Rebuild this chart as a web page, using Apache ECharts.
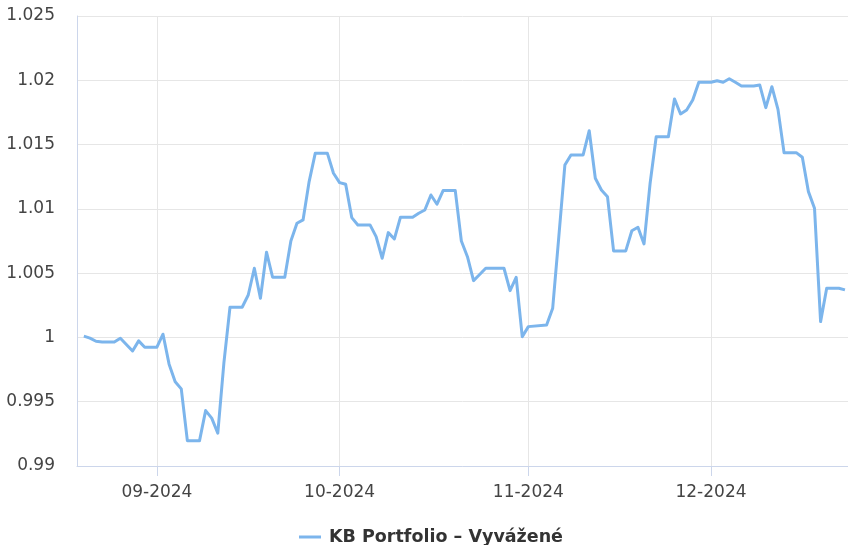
<!DOCTYPE html>
<html>
<head>
<meta charset="utf-8">
<script src="https://cdn.jsdelivr.net/npm/echarts@6/dist/echarts.min.js"></script>
<style>
  html, body { margin: 0; padding: 0; background: #fff; }
  #chart { width: 848px; height: 545px; }
</style>
</head>
<body>
<div id="chart"></div>
<script>
  // KB Portfolio – Vyvážené
  const dates = [
    "2024-08-20", "2024-08-21", "2024-08-22", "2024-08-23", "2024-08-25", "2024-08-26",
    "2024-08-28", "2024-08-29", "2024-08-30", "2024-09-01", "2024-09-02", "2024-09-03",
    "2024-09-04", "2024-09-05", "2024-09-06", "2024-09-08", "2024-09-09", "2024-09-10",
    "2024-09-11", "2024-09-12", "2024-09-13", "2024-09-15", "2024-09-16", "2024-09-17",
    "2024-09-18", "2024-09-19", "2024-09-20", "2024-09-22", "2024-09-23", "2024-09-24",
    "2024-09-25", "2024-09-26", "2024-09-27", "2024-09-29", "2024-09-30", "2024-10-01",
    "2024-10-02", "2024-10-03", "2024-10-04", "2024-10-06", "2024-10-07", "2024-10-08",
    "2024-10-09", "2024-10-10", "2024-10-11", "2024-10-13", "2024-10-14", "2024-10-15",
    "2024-10-16", "2024-10-17", "2024-10-18", "2024-10-20", "2024-10-21", "2024-10-22",
    "2024-10-23", "2024-10-24", "2024-10-25", "2024-10-28", "2024-10-29", "2024-10-30",
    "2024-10-31", "2024-11-01", "2024-11-04", "2024-11-05", "2024-11-06", "2024-11-07",
    "2024-11-08", "2024-11-10", "2024-11-11", "2024-11-12", "2024-11-13", "2024-11-14",
    "2024-11-15", "2024-11-17", "2024-11-18", "2024-11-19", "2024-11-20", "2024-11-21",
    "2024-11-22", "2024-11-24", "2024-11-25", "2024-11-26", "2024-11-27", "2024-11-28",
    "2024-11-29", "2024-12-01", "2024-12-02", "2024-12-03", "2024-12-04", "2024-12-05",
    "2024-12-06", "2024-12-08", "2024-12-09", "2024-12-10", "2024-12-11", "2024-12-12",
    "2024-12-13", "2024-12-15", "2024-12-16", "2024-12-17", "2024-12-18", "2024-12-19",
    "2024-12-20", "2024-12-22", "2024-12-23"
  ];
  const values = [
    1.0001, 0.99995, 0.9997, 0.99965, 0.99965, 0.99994,
    0.99895, 0.99973, 0.99924, 0.99924, 1.00025, 0.99792,
    0.99656, 0.996, 0.99197, 0.99197, 0.99431, 0.99372,
    0.99255, 0.99802, 1.00235, 1.00235, 1.0033, 1.00538,
    1.00305, 1.00663, 1.00468, 1.00468, 1.0075, 1.00888,
    1.00914, 1.01212, 1.01432, 1.01432, 1.01277, 1.01204,
    1.01191, 1.00932, 1.00875, 1.00875, 1.00784, 1.00616,
    1.00815, 1.00766, 1.00935, 1.00935, 1.00966, 1.00991,
    1.01108, 1.01036, 1.01142, 1.01142, 1.0075, 1.00628,
    1.00442, 1.0049, 1.00538, 1.00538, 1.00364, 1.00468,
    1.00006, 1.00084, 1.00097, 1.00227, 1.0078, 1.01341,
    1.01419, 1.01419, 1.01608, 1.01238, 1.01147, 1.01095,
    1.00673, 1.00673, 1.0083, 1.00857, 1.00727, 1.01199,
    1.01561, 1.01561, 1.01855, 1.01738, 1.01769, 1.01847,
    1.01985, 1.01985, 1.01997, 1.01985, 1.02012, 1.01985,
    1.01956, 1.01956, 1.01964, 1.01787, 1.0195, 1.01774,
    1.01437, 1.01437, 1.01401, 1.01134, 1.01005, 1.00123,
    1.00383, 1.00383, 1.0037
  ];
  const seriesName = "KB Portfolio – Vyvážené";
  const yMin = 0.99;
  const yMax = 1.025;
  const yStep = 0.005;

  const myChart = echarts.init(document.getElementById("chart"));
  const font = "DejaVu Sans";
  const option = {
    animation: false,
    textStyle: { fontFamily: font },
    grid: { left: 77, right: 0, top: 16, bottom: 79, containLabel: false },
    legend: {
      bottom: -6,
      left: 294,
      icon: "rect",
      itemWidth: 22,
      itemHeight: 3,
      textStyle: {
        fontFamily: font,
        fontSize: 17.5,
        fontWeight: "bold",
        color: "#333",
        padding: [0, 0, 0, 3],
      },
      data: [seriesName],
    },
    xAxis: {
      type: "time",
      min: "2024-08-18 21:00",
      max: "2024-12-23 12:00",
      minInterval: 28 * 86400000,
      maxInterval: 31 * 86400000,
      axisLine: { show: true, lineStyle: { color: "#ccd6eb", width: 1 } },
      axisTick: { show: true, length: 10, lineStyle: { color: "#ccd6eb" } },
      splitLine: { show: true, lineStyle: { color: "#e6e6e6", width: 1 } },
      axisLabel: {
        fontFamily: font,
        fontSize: 17,
        color: "#444",
        margin: 18,
        showMinLabel: false,
        showMaxLabel: false,
        formatter: (v) => {
          const d = new Date(v);
          return String(d.getMonth() + 1).padStart(2, "0") + "-" + d.getFullYear();
        },
      },
    },
    yAxis: {
      type: "value",
      min: yMin,
      max: yMax,
      interval: yStep,
      axisLine: { show: true, lineStyle: { color: "#ccd6eb", width: 1 } },
      axisTick: { show: false },
      splitLine: { show: true, lineStyle: { color: "#e6e6e6", width: 1 } },
      axisLabel: {
        fontFamily: font,
        fontSize: 17,
        color: "#444",
        margin: 22,
        formatter: (v) => String(+v.toFixed(3)),
      },
    },
    series: [
      {
        name: seriesName,
        type: "line",
        data: dates.map((d, i) => [d, values[i]]),
        showSymbol: false,
        symbol: "none",
        color: "#7cb5ec",
        lineStyle: { width: 3, color: "#7cb5ec", join: "round" },
      },
    ],
  };
  myChart.setOption(option);
</script>
</body>
</html>
